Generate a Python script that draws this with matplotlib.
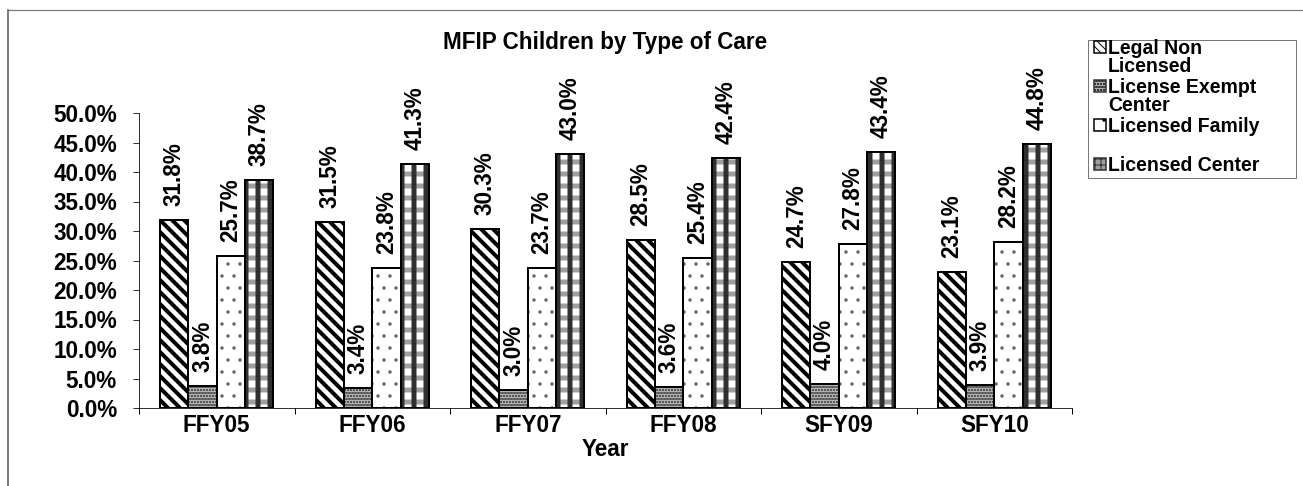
import numpy as np
import matplotlib.pyplot as plt
from matplotlib.patches import Rectangle
from matplotlib.lines import Line2D
from matplotlib.ticker import PercentFormatter

years = ['FFY05', 'FFY06', 'FFY07', 'FFY08', 'SFY09', 'SFY10']
care_types = ['Legal Non\nLicensed', 'License Exempt\nCenter', 'Licensed Family', 'Licensed Center']
legal_non_licensed = [31.8, 31.5, 30.3, 28.5, 24.7, 23.1]
license_exempt_center = [3.8, 3.4, 3.0, 3.6, 4.0, 3.9]
licensed_family = [25.7, 23.8, 23.7, 25.4, 27.8, 28.2]
licensed_center = [38.7, 41.3, 43.0, 42.4, 43.4, 44.8]

plt.rcParams['font.family'] = 'Liberation Sans'
plt.rcParams['font.weight'] = 'bold'
plt.rcParams['hatch.linewidth'] = 1.0

DPI = 72
FS = 22.5
fig = plt.figure(figsize=(1303 / DPI, 486 / DPI), dpi=DPI)
ax = fig.add_axes([139 / 1303, 1 - 408 / 486, (1072 - 139) / 1303, (408 - 113) / 486])

x = np.arange(len(years))
w = 0.182
series = [legal_non_licensed, license_exempt_center, licensed_family, licensed_center]
offsets = [-1.5, -0.5, 0.5, 1.5]


def draw_patterned(ax_, xs, ys, width, style):
    # one series with its fill pattern, outline drawn on top
    if style == 0:
        with plt.rc_context({'hatch.linewidth': 4.0}):
            ax_.bar(xs, ys, width, color='white', edgecolor='black', hatch='\\\\', linewidth=0)
    elif style == 1:
        ax_.bar(xs, ys, width, color='#b8b8b8', edgecolor='#555555', hatch='oooo', linewidth=0)
    elif style == 2:
        ax_.bar(xs, ys, width, color='white', edgecolor='#666666', hatch='.', linewidth=0)
    else:
        with plt.rc_context({'hatch.linewidth': 5}):
            ax_.bar(xs, ys, width, color='white', edgecolor='#a0a0a0', hatch='-', linewidth=0)
            ax_.bar(xs, ys, width, color='none', edgecolor='#303030', hatch='|', linewidth=0)
    ax_.bar(xs, ys, width, color='none', edgecolor='black', linewidth=2)


for i, (vals, off) in enumerate(zip(series, offsets)):
    xs = x + off * w
    draw_patterned(ax, xs, vals, w, i)
    for xi, v in zip(xs, vals):
        ax.annotate(f'{v:.1f}%', (xi, v), xytext=(0, 14), textcoords='offset points',
                    rotation=90, ha='center', va='bottom', fontsize=FS, fontweight='bold')

ax.set_xlim(-0.5, len(years) - 0.5)
ax.set_ylim(0, 50)
ax.set_yticks(np.arange(0, 50.1, 5))
ax.yaxis.set_major_formatter(PercentFormatter(decimals=1))
ax.set_xticks(x)
ax.set_xticklabels(years)
ax.set_xticks(np.arange(-0.5, len(years)), minor=True)
ax.tick_params(axis='x', which='major', length=0, labelsize=FS, pad=6)
ax.tick_params(axis='x', which='minor', length=6, direction='out', width=1)
ax.tick_params(axis='y', length=6, direction='out', labelsize=FS, pad=16)
ax.spines['top'].set_visible(False)
ax.spines['right'].set_visible(False)
ax.set_xlabel('Year', fontsize=FS, fontweight='bold', labelpad=1)
ax.set_title('MFIP Children by Type of Care', fontsize=FS, fontweight='bold', pad=64)

# outer chart border
fig.add_artist(Line2D([8 / 1303, 1302 / 1303], [1 - 10 / 486] * 2, color='#777777', lw=1.2, transform=fig.transFigure))
fig.add_artist(Line2D([8 / 1303] * 2, [0, 1 - 10 / 486], color='#555555', lw=1.5, transform=fig.transFigure))

# legend box
fig.add_artist(Rectangle((1088 / 1303, 1 - 178 / 486), (1296 - 1088) / 1303, (178 - 40) / 486,
                         transform=fig.transFigure, facecolor='white', edgecolor='#777777', lw=1))
key_styles = [
    dict(facecolor='white', edgecolor='black', hatch='\\\\\\'),
    dict(facecolor='#b8b8b8', edgecolor='#333333', hatch='oooo'),
    dict(facecolor='white', edgecolor='black', hatch='.'),
    dict(facecolor='#a0a0a0', edgecolor='#303030', hatch='++'),
]
first_line = [47, 86, 125, 164]
for label, yl, ks in zip(care_types, first_line, key_styles):
    fig.add_artist(Rectangle((1094 / 1303, 1 - (yl + 6) / 486), 12 / 1303, 12 / 486,
                             transform=fig.transFigure, lw=1.5, **ks))
    fig.text(1108 / 1303, 1 - (yl - 8) / 486, label, fontsize=19.5, fontweight='bold',
             va='top', ha='left', linespacing=0.95)

fig.savefig('out.png', dpi=DPI)
